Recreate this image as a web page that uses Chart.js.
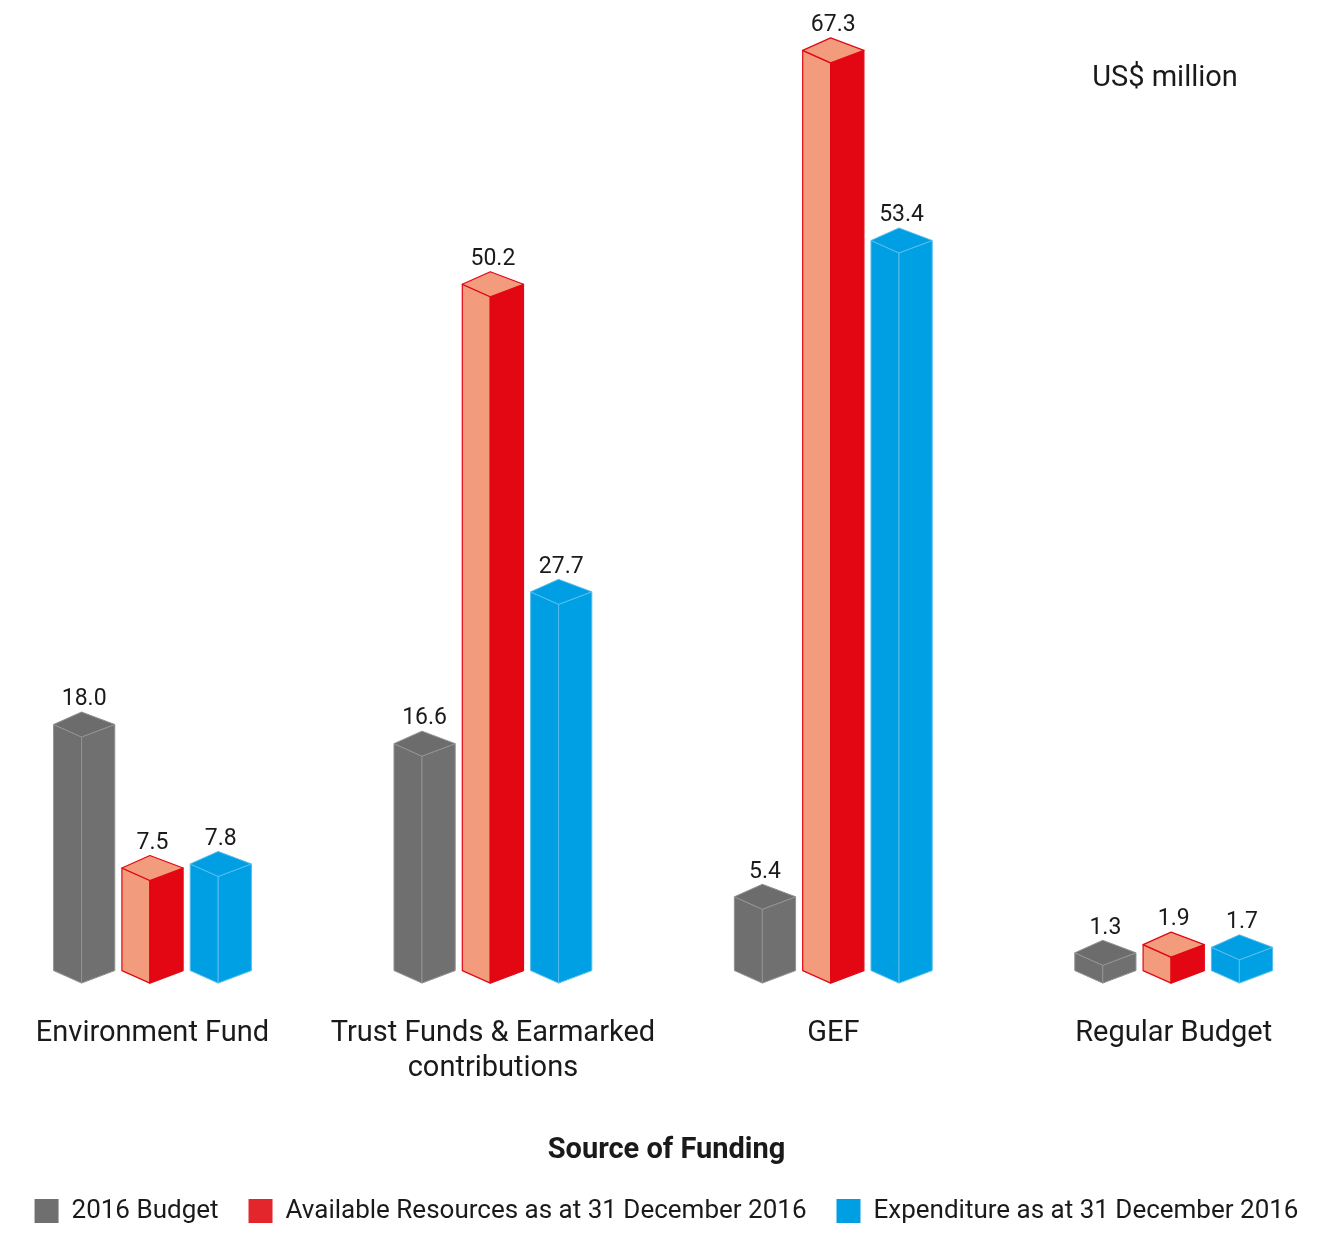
<!DOCTYPE html>
<html>
<head>
  <title>Source of Funding</title>
  <meta charset="utf-8">
  <style>
    body { margin: 0; background: #fff; }
  </style>
</head>
<body>
  <script src="https://cdn.jsdelivr.net/npm/chart.js"></script>
  <canvas id="fundingChart" width="1333" height="1234"></canvas>
<script>
    // Funding sources and amounts (US$ million)
    const categories = [
        'Environment Fund',
        ['Trust Funds & Earmarked', 'contributions'],
        'GEF',
        'Regular Budget'
    ];
    const seriesNames = [
        '2016 Budget',
        'Available Resources as at 31 December 2016',
        'Expenditure as at 31 December 2016'
    ];
    const budget2016 = [18.0, 16.6, 5.4, 1.3];
    const availableResources = [7.5, 50.2, 67.3, 1.9];
    const expenditure = [7.8, 27.7, 53.4, 1.7];

    // face colours for each series: left face, right face, top, edge
    const prismStyles = [
        { left: '#6f6f6f', right: '#707070', top: '#6c6c6c', edge: '#929292', edgeWidth: 1 },
        { left: '#f29b7d', right: '#e30613', top: '#f29b7d', edge: '#e30613', edgeWidth: 1.2 },
        { left: '#009fe3', right: '#00a0e4', top: '#009fe3', edge: '#55bdec', edgeWidth: 1 }
    ];
    const legendColors = ['#6f6f6f', '#e3262b', '#009fe3'];

    const textColor = '#1a1a1a';
    const fontFamily = 'Roboto, "Noto Sans", sans-serif';
    const depth = 12.5;       // vertical offset of the top diamond
    const frontRatio = 0.457; // where the front edge sits across the bar

    function toPoints(values) {
        return values.map((v, i) => ({ x: i, y: v }));
    }

    function drawPrism(ctx, bar, style) {
        const p = bar.getProps(['x', 'y', 'base', 'width'], true);
        const L = p.x - p.width / 2;
        const R = p.x + p.width / 2;
        const F = L + p.width * frontRatio;
        const top = p.y;
        const base = p.base;

        ctx.save();
        ctx.lineJoin = 'round';
        ctx.lineWidth = style.edgeWidth;
        ctx.strokeStyle = style.edge;

        // left face
        ctx.beginPath();
        ctx.moveTo(L, top);
        ctx.lineTo(F, top + depth);
        ctx.lineTo(F, base + depth);
        ctx.lineTo(L, base);
        ctx.closePath();
        ctx.fillStyle = style.left;
        ctx.fill();
        ctx.stroke();

        // right face
        ctx.beginPath();
        ctx.moveTo(F, top + depth);
        ctx.lineTo(R, top);
        ctx.lineTo(R, base);
        ctx.lineTo(F, base + depth);
        ctx.closePath();
        ctx.fillStyle = style.right;
        ctx.fill();
        ctx.stroke();

        // top
        ctx.beginPath();
        ctx.moveTo(L, top);
        ctx.lineTo(F, top - depth);
        ctx.lineTo(R, top);
        ctx.lineTo(F, top + depth);
        ctx.closePath();
        ctx.fillStyle = style.top;
        ctx.fill();
        ctx.stroke();
        ctx.restore();
    }

    const prismPlugin = {
        id: 'prismBars',
        beforeDatasetDraw(chart, args) {
            const ctx = chart.ctx;
            const style = prismStyles[args.index];
            args.meta.data.forEach(bar => drawPrism(ctx, bar, style));
            return false;
        },
        afterDatasetsDraw(chart) {
            const ctx = chart.ctx;
            ctx.save();
            ctx.fillStyle = textColor;
            ctx.font = '23px ' + fontFamily;
            ctx.textAlign = 'center';
            ctx.textBaseline = 'middle';
            chart.data.datasets.forEach((ds, di) => {
                const meta = chart.getDatasetMeta(di);
                meta.data.forEach((bar, i) => {
                    const p = bar.getProps(['x', 'y'], true);
                    ctx.fillText(ds.data[i].y.toFixed(1), p.x, p.y - depth - 12.5);
                });
            });
            ctx.restore();
        },
        afterDraw(chart) {
            const ctx = chart.ctx;
            ctx.save();
            ctx.fillStyle = textColor;
            ctx.font = '29px ' + fontFamily;
            ctx.textAlign = 'center';
            ctx.textBaseline = 'middle';
            ctx.fillText('US$ million', 1165, 79);
            ctx.restore();
        }
    };

    new Chart(document.getElementById('fundingChart'), {
        type: 'bar',
        data: {
            datasets: [
                { label: seriesNames[0], data: toPoints(budget2016), backgroundColor: legendColors[0] },
                { label: seriesNames[1], data: toPoints(availableResources), backgroundColor: legendColors[1] },
                { label: seriesNames[2], data: toPoints(expenditure), backgroundColor: legendColors[2] }
            ]
        },
        options: {
            responsive: false,
            animation: false,
            layout: { padding: { top: 13.5, left: 0, right: 0, bottom: 0 } },
            datasets: {
                bar: { categoryPercentage: 0.602, barPercentage: 0.896 }
            },
            plugins: {
                tooltip: { enabled: false },
                legend: {
                    position: 'bottom',
                    labels: {
                        color: textColor,
                        font: { family: fontFamily, size: 26 },
                        boxWidth: 24,
                        boxHeight: 24,
                        padding: 30
                    }
                }
            },
            scales: {
                x: {
                    type: 'linear',
                    offset: false,
                    min: -0.448,
                    max: 3.468,
                    grid: { display: false, drawTicks: false },
                    border: { display: false },
                    afterBuildTicks(scale) {
                        scale.ticks = categories.map((c, i) => ({ value: i }));
                    },
                    afterFit(scale) {
                        // let the outer labels sit freely, keep the full width for bars
                        scale.paddingLeft = 0;
                        scale.paddingRight = 0;
                    },
                    ticks: {
                        color: textColor,
                        font: { family: fontFamily, size: 29, lineHeight: 1.2 },
                        padding: 46,
                        maxRotation: 0,
                        autoSkip: false,
                        callback: (value) => categories[value]
                    },
                    title: {
                        display: true,
                        text: 'Source of Funding',
                        color: textColor,
                        font: { family: fontFamily, size: 29, weight: 'bold', lineHeight: 1.2 },
                        padding: { top: 1, bottom: 0 }
                    }
                },
                y: {
                    display: false,
                    min: 0,
                    max: 70
                }
            }
        },
        plugins: [prismPlugin]
    });
</script>
</body>
</html>
